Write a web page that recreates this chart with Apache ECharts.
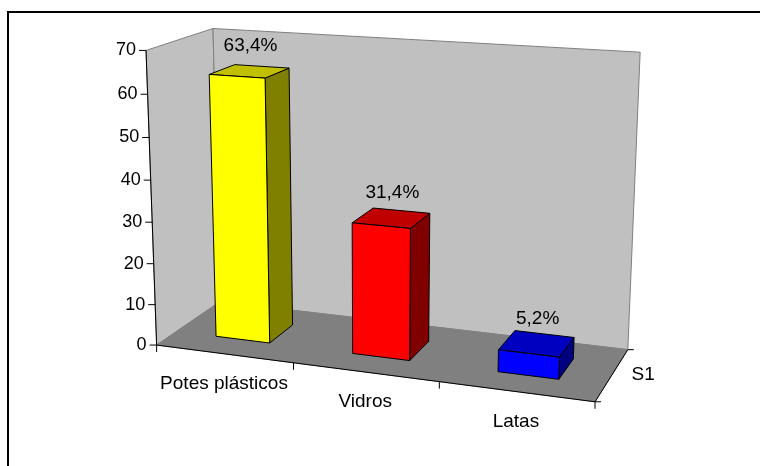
<!DOCTYPE html>
<html><head><meta charset="utf-8">
<script src="https://cdn.jsdelivr.net/npm/echarts@6/dist/echarts.min.js"></script>
<style>html,body{margin:0;padding:0;background:#fff}#c{width:760px;height:466px}</style>
</head><body><div id="c"></div>
<script>
// ---- data ----
const categories = ['Potes plásticos', 'Vidros', 'Latas'];
const values = [63.4, 31.4, 5.2];
const valueLabels = ['63,4%', '31,4%', '5,2%'];
const yTicks = [0, 10, 20, 30, 40, 50, 60, 70];
const seriesName = 'S1';

// ---- style ----
const FONT_FAMILY = '"Liberation Sans", Arial, sans-serif';
const frontColors = ['#FFFF00', '#FF0000', '#0000FF'];
const sideColors = ['#808000', '#800000', '#000080'];
const topColors = ['#C0C000', '#C00000', '#0000C0'];
const BAR_FRAC = 0.4, Z0 = 0.3, Z1 = 0.7;

// ---- camera calibration: world [X cat units, Y value, Z depth] -> screen ----
const yMax = yTicks[yTicks.length - 1];
const nCat = categories.length;
const anchors = [
  [0, 0, 0, 158, 345], [0, 70, 0, 145, 49], [0, 70, 1, 214, 29], [0, 0, 1, 218, 302],
  [3, 70, 1, 640, 53], [3, 0, 1, 629, 348], [3, 0, 0, 595, 401],
  [1, 0, 0, 293, 363], [2, 0, 0, 438, 384],
  [0, 10, 0, 156, 304], [0, 20, 0, 154, 264], [0, 30, 0, 153, 222],
  [0, 40, 0, 151, 180], [0, 50, 0, 149, 138], [0, 60, 0, 147, 94]
];
function fitCamera(pts) {
  const A = [], b = [], s = 100;
  pts.forEach(([X, Y, Z, u, v]) => {
    Y = Y / yMax; u /= s; v /= s;
    A.push([X, Y, Z, 1, 0, 0, 0, 0, -u * X, -u * Y, -u * Z]); b.push(u);
    A.push([0, 0, 0, 0, X, Y, Z, 1, -v * X, -v * Y, -v * Z]); b.push(v);
  });
  const n = 11, M = [];
  for (let i = 0; i < n; i++) {
    M.push(new Array(n + 1).fill(0));
    for (let j = 0; j < n; j++) for (let k = 0; k < A.length; k++) M[i][j] += A[k][i] * A[k][j];
    for (let k = 0; k < A.length; k++) M[i][n] += A[k][i] * b[k];
  }
  for (let c = 0; c < n; c++) {
    let p = c;
    for (let r = c + 1; r < n; r++) if (Math.abs(M[r][c]) > Math.abs(M[p][c])) p = r;
    [M[c], M[p]] = [M[p], M[c]];
    for (let r = 0; r < n; r++) {
      if (r === c) continue;
      const f = M[r][c] / M[c][c];
      for (let k = c; k <= n; k++) M[r][k] -= f * M[c][k];
    }
  }
  return M.map((row, i) => row[n] / row[i]);
}
const P = fitCamera(anchors);
function proj(X, Y, Z) {
  const y = Y / yMax;
  const w = P[8] * X + P[9] * y + P[10] * Z + 1;
  return [(P[0] * X + P[1] * y + P[2] * Z + P[3]) / w * 100,
          (P[4] * X + P[5] * y + P[6] * Z + P[7]) / w * 100];
}
function poly(points, fill, stroke, lw) {
  return { type: 'polygon', shape: { points }, style: { fill, stroke, lineWidth: lw || 1 } };
}
function line(a, b, stroke, lw) {
  return { type: 'line', shape: { x1: a[0], y1: a[1], x2: b[0], y2: b[1] }, style: { stroke, lineWidth: lw || 1 } };
}
function text(str, x, y, size, align, valign) {
  return { type: 'text', style: { text: str, x, y, fill: '#000', fontSize: size, fontFamily: FONT_FAMILY,
    align: align || 'center', verticalAlign: valign || 'middle' } };
}
function mappers(params) {
  const cs = params.coordSys;
  return {
    toX: px => (px - cs.x) / cs.width * nCat,
    toY: py => (cs.y + cs.height - py) / cs.height * yMax
  };
}

function renderFrame(params, api) {
  const { toX, toY } = mappers(params);
  const band = api.size([1, 0])[0];
  const xL = toX(api.coord([0, 0])[0] - band / 2);
  const xR = toX(api.coord([nCat - 1, 0])[0] + band / 2);
  const yB = toY(api.coord([0, yTicks[0]])[1]);
  const yT = toY(api.coord([0, yMax])[1]);
  const ch = [];
  ch.push(poly([proj(xL, yB, 0), proj(xL, yB, 1), proj(xL, yT, 1), proj(xL, yT, 0)], '#C0C0C0', '#808080'));
  ch.push(poly([proj(xL, yB, 1), proj(xR, yB, 1), proj(xR, yT, 1), proj(xL, yT, 1)], '#C0C0C0', '#808080'));
  ch.push(poly([proj(xL, yB, 0), proj(xR, yB, 0), proj(xR, yB, 1), proj(xL, yB, 1)], '#808080', '#808080'));
  // value axis
  ch.push(line(proj(xL, yB, 0), proj(xL, yT, 0), '#000', 1));
  yTicks.forEach(t => {
    const p = proj(xL, toY(api.coord([0, t])[1]), 0);
    ch.push(line([p[0] - 7, p[1]], p, '#000', 1));
    ch.push(text(String(t), p[0] - 10, p[1], 18, 'right', 'middle'));
  });
  // category axis
  ch.push(line(proj(xL, yB, 0), proj(xR, yB, 0), '#000', 1));
  for (let i = 0; i <= nCat; i++) {
    const p = proj(xL + i, yB, 0);
    ch.push(line(p, [p[0], p[1] + 7], '#000', 1));
  }
  categories.forEach((c, i) => {
    const p = proj(toX(api.coord([i, 0])[0]), yB, 0);
    ch.push(text(c, p[0], p[1] + 30, 19));
  });
  // series (depth) axis
  const d0 = proj(xR, yB, 0), d1 = proj(xR, yB, 1);
  ch.push(line(d0, d1, '#000', 1));
  ch.push(line(d0, [d0[0] + 6, d0[1]], '#000', 1));
  ch.push(line(d1, [d1[0] + 6, d1[1]], '#000', 1));
  const dm = proj(xR, yB, 0.5);
  ch.push(text(seriesName, dm[0] + 31, dm[1], 19));
  return { type: 'group', children: ch };
}

function renderBar(params, api) {
  const { toX, toY } = mappers(params);
  const i = api.value(0), v = api.value(1);
  const base = api.coord([i, 0]), top = api.coord([i, v]);
  const band = api.size([1, 0])[0];
  const xc = toX(base[0]);
  const hw = band * BAR_FRAC / 2 / params.coordSys.width * nCat;
  const x0 = xc - hw, x1 = xc + hw, y0 = toY(base[1]), y1 = toY(top[1]);
  const ch = [
    poly([proj(x1, y0, Z0), proj(x1, y0, Z1), proj(x1, y1, Z1), proj(x1, y1, Z0)], sideColors[i], '#000'),
    poly([proj(x0, y1, Z0), proj(x1, y1, Z0), proj(x1, y1, Z1), proj(x0, y1, Z1)], topColors[i], '#000'),
    poly([proj(x0, y0, Z0), proj(x1, y0, Z0), proj(x1, y1, Z0), proj(x0, y1, Z0)], frontColors[i], '#000')
  ];
  const tc = proj(xc, y1, (Z0 + Z1) / 2);
  ch.push(text(valueLabels[i], tc[0] + 1, tc[1] - 25, 19));
  return { type: 'group', children: ch };
}

const chart = echarts.init(document.getElementById('c'));
chart.setOption({
  animation: false,
  backgroundColor: '#fff',
  grid: { left: 0, right: 0, top: 0, bottom: 0 },
  xAxis: { type: 'category', data: categories, show: false },
  yAxis: { type: 'value', min: 0, max: yMax, interval: 10, show: false },
  graphic: [{ type: 'rect', shape: { x: 8, y: 12, width: 800, height: 500 },
    style: { fill: null, stroke: '#000', lineWidth: 2 }, z: 100 }],
  series: [
    { type: 'custom', clip: false, renderItem: renderFrame, data: [[0, 0]], z: 1 },
    { type: 'custom', clip: false, renderItem: renderBar, z: 2,
      data: values.map((v, i) => [i, v]) }
  ]
});
</script></body></html>
